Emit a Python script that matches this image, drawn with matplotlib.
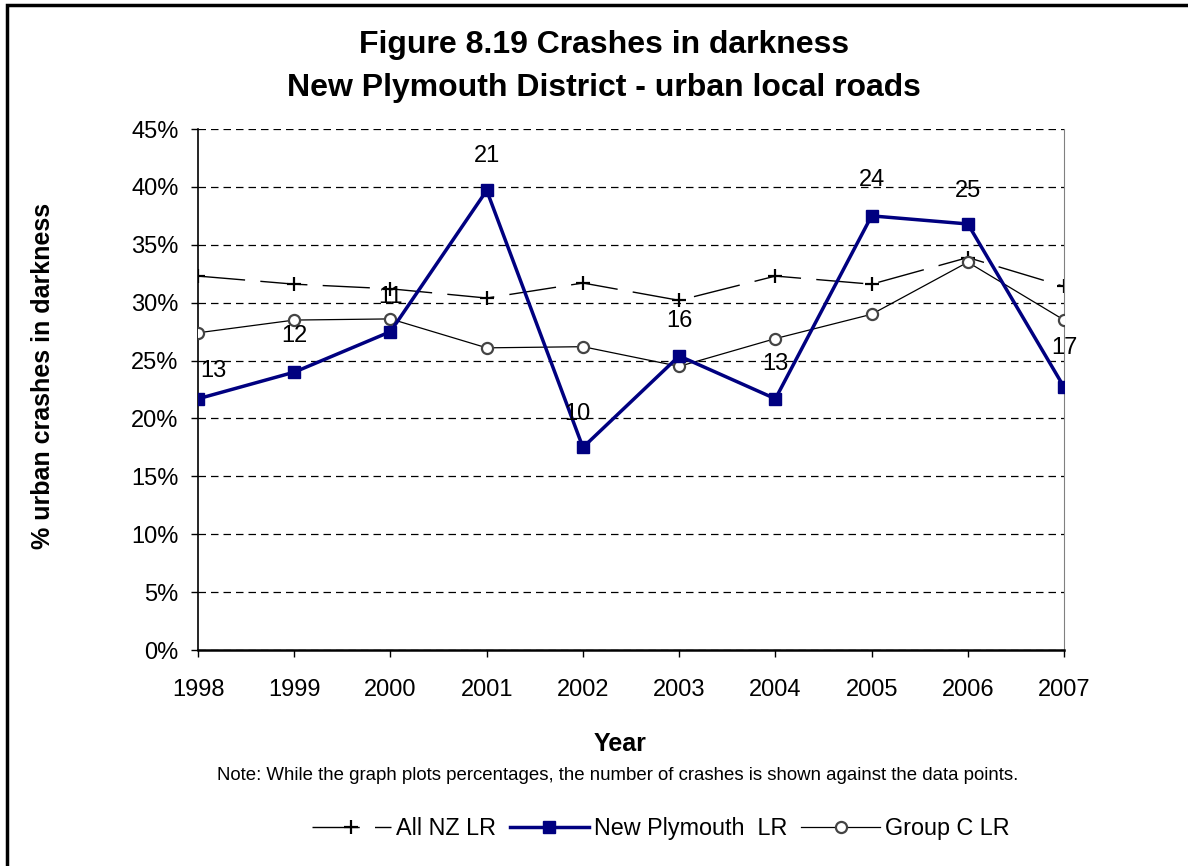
import matplotlib
matplotlib.use("Agg")
import matplotlib.pyplot as plt
from matplotlib.patches import Rectangle
from matplotlib.ticker import FuncFormatter

plt.rcParams['font.family'] = ['Liberation Sans', 'DejaVu Sans']

years = [1998, 1999, 2000, 2001, 2002, 2003, 2004, 2005, 2006, 2007]
all_nz = [32.3, 31.6, 31.2, 30.4, 31.7, 30.2, 32.3, 31.6, 33.9, 31.4]
new_plymouth = [21.7, 24.0, 27.5, 39.7, 17.5, 25.4, 21.7, 37.5, 36.8, 22.7]
group_c = [27.4, 28.5, 28.6, 26.1, 26.2, 24.5, 26.9, 29.0, 33.5, 28.5]
crash_counts = [13, 12, 11, 21, 10, 16, 13, 24, 25, 17]
# label nudges (points) relative to each New Plymouth point
label_dx = [11, 0, 0, 0, -4, 0, 0, 0, 0, 0]
label_dy = [20, 26, 25, 25, 24, 25, 25, 26, 24, 28]

fig = plt.figure(figsize=(11.88, 8.66), dpi=100)
ax = fig.add_axes([0.1667, 0.2494, 0.729, 0.6016])

ax.plot(years, all_nz, color='black', lw=1, linestyle=(0, (34, 11)),
        marker='+', markersize=10, markeredgewidth=1.6, label='All NZ LR')
ax.plot(years, new_plymouth, color='#000080', lw=2.5, marker='s',
        markersize=8.5, label='New Plymouth  LR', zorder=4)
ax.plot(years, group_c, color='black', lw=0.9, marker='o', markersize=8,
        markerfacecolor='white', markeredgecolor='#444444', markeredgewidth=1.6,
        label='Group C LR', zorder=3)

for yr, v, n, dx, dy in zip(years, new_plymouth, crash_counts, label_dx, label_dy):
    ax.annotate(str(n), (yr, v), xytext=(dx, dy), textcoords='offset points',
                ha='center', va='center', fontsize=17, zorder=5)

ax.set_xlim(1998, 2007)
ax.set_ylim(0, 45)
ax.set_yticks(range(0, 50, 5))
ax.yaxis.set_major_formatter(FuncFormatter(lambda v, p: f"{int(v)}%"))
ax.set_xticks(years)
ax.set_xticklabels([str(y) for y in years])
ax.tick_params(axis='both', labelsize=17, length=5, width=1)
ax.tick_params(axis='x', pad=16)
ax.tick_params(axis='y', pad=9)
ax.yaxis.grid(True, color='black', linestyle=(0, (6, 4)), lw=0.9)
ax.set_axisbelow(True)
ax.spines['top'].set_visible(False)
ax.spines['right'].set_color('#808080')
ax.spines['left'].set_linewidth(1.2)
ax.spines['bottom'].set_linewidth(1.8)

fig.text(43 / 1188, 0.566, '% urban crashes in darkness', rotation=90,
         ha='center', va='center', fontsize=18, fontweight='bold')
fig.text(0.522, 0.141, 'Year', ha='center', va='center', fontsize=18, fontweight='bold')

fig.text(0.5085, 1 - 45 / 866, 'Figure 8.19 Crashes in darkness',
         ha='center', va='center', fontsize=23, fontweight='bold')
fig.text(0.5085, 1 - 88 / 866, 'New Plymouth District - urban local roads',
         ha='center', va='center', fontsize=23, fontweight='bold')
fig.text(0.52, 1 - 775 / 866, 'Note: While the graph plots percentages, the number of crashes is shown against the data points.',
         ha='center', va='center', fontsize=13.4)

fig.legend(loc='center', bbox_to_anchor=(0.556, 0.043), ncol=3, frameon=False,
           fontsize=16.8, handlelength=3.4, columnspacing=0.6, handletextpad=0.2)

fig.patches.append(Rectangle((0.006, -0.1), 1.2, 1.094, transform=fig.transFigure,
                             fill=False, edgecolor='black', lw=2.5))

plt.savefig('out.png', dpi=100)
